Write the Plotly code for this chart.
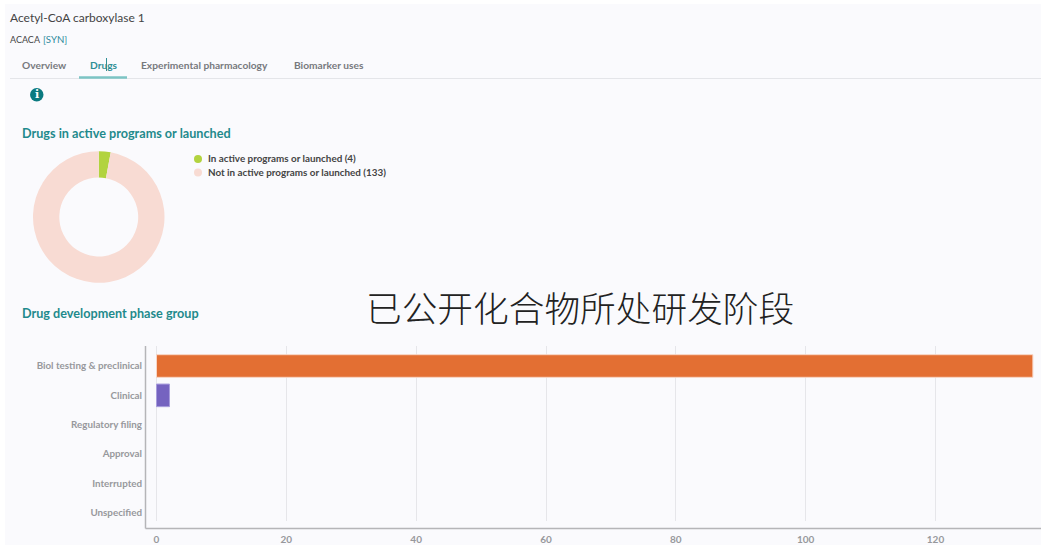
import plotly.graph_objects as go

W, H = 1041, 545
FONT = "Lato, 'Noto Sans', sans-serif"
CJK = "'Noto Sans CJK SC', sans-serif"

# Data
pie_labels = ["In active programs or launched", "Not in active programs or launched"]
pie_values = [4, 133]
pie_colors = ["#b2d33f", "#f8dbd3"]

phases = ["Biol testing & preclinical", "Clinical", "Regulatory filing",
          "Approval", "Interrupted", "Unspecified"]
phase_counts = [135, 2, 0, 0, 0, 0]
phase_colors = ["#e36f33", "#7563c0", "#999999", "#999999", "#999999", "#999999"]
phase_edges = ["#f8d5c5", "#a79cdc", "#ffffff", "#ffffff", "#ffffff", "#ffffff"]
phase_edge_widths = [1, 1, 0, 0, 0, 0]
x_ticks = [0, 20, 40, 60, 80, 100, 120]

tabs = ["Overview", "Drugs", "Experimental pharmacology", "Biomarker uses"]
tab_x = [22, 90, 141, 294]


def px(x):
    return x / W


def py(y):
    return 1 - y / H


fig = go.Figure()
fig.add_trace(go.Pie(
    labels=pie_labels, values=pie_values, hole=0.6, sort=False,
    direction="clockwise", rotation=0,
    marker=dict(colors=pie_colors, line=dict(width=0)),
    textinfo="none", hoverinfo="label+value", showlegend=False,
    domain=dict(x=[px(33), px(164.5)], y=[py(283), py(151)]),
))
fig.add_trace(go.Bar(
    y=phases, x=phase_counts, orientation="h", width=0.77,
    marker=dict(color=phase_colors, line=dict(color=phase_edges, width=phase_edge_widths)),
    showlegend=False,
))


def text(x, y, s, size, color, anchor="left", weight=400, family=FONT):
    # Annotation boxes carry a small padding, so pull the text back onto its anchor
    fig.add_annotation(
        x=px(x), y=py(y), xref="paper", yref="paper", text=s, showarrow=False,
        xanchor=anchor, yanchor="middle", xshift=-2 if anchor == "left" else 0,
        font=dict(size=size, color=color, family=family, weight=weight),
    )


def line(x0, y0, x1, y1, color, width=1):
    fig.add_shape(type="line", xref="paper", yref="paper",
                  x0=px(x0), y0=py(y0), x1=px(x1), y1=py(y1),
                  line=dict(color=color, width=width))


# Page panel
fig.add_shape(type="rect", xref="paper", yref="paper", layer="below",
              x0=px(5), y0=py(4), x1=px(1041), y1=py(545),
              fillcolor="#fafafd", line=dict(width=0))

# Header and tabs
text(10, 17.5, "Acetyl-CoA carboxylase 1", 12, "#444444")
text(10, 39, "ACACA", 9, "#444444")
text(43, 39, "[SYN]", 9.6, "#2d8a9c")
for name, x in zip(tabs, tab_x):
    active = name == "Drugs"
    text(x, 64.8, name, 10.2, "#2f8f96" if active else "#77797d", weight=700)
line(10, 78.5, 1041, 78.5, "#e4e5e9")
line(79, 77.5, 127, 77.5, "#7cc4c4", 2.5)
line(106.5, 58, 106.5, 71, "#2f8f96", 1)

# Info badge
fig.add_shape(type="circle", xref="paper", yref="paper",
              x0=px(30), y0=py(88), x1=px(43.5), y1=py(101.5),
              fillcolor="#0b7a80", line=dict(width=0))
text(36.8, 94.8, "i", 11, "#ffffff", anchor="center", weight=900, family="'DejaVu Serif', serif")

# Section headings
text(22, 133.7, "Drugs in active programs or launched", 12.65, "#1f8a8c", weight=700)
text(22, 313, "Drug development phase group", 12.65, "#1f8a8c", weight=700)

# Donut legend
for y, color, label, value in zip([159, 172.5], pie_colors, pie_labels, pie_values):
    fig.add_shape(type="circle", xref="paper", yref="paper",
                  x0=px(194), y0=py(y - 4), x1=px(202), y1=py(y + 4),
                  fillcolor=color, line=dict(width=0))
    text(208, y - 0.8, f"{label} ({value})", 9.85, "#444444", weight=700)

# Overlay caption
text(580, 306.5, "已公开化合物所处研发阶段", 35.7, "#222222", anchor="center", family=CJK, weight=300)

# Axis frame below and left of the plot
line(145.5, 346, 145.5, 528.5, "#b5b5b8", 1.5)
line(145.5, 528.5, 1041, 528.5, "#b5b5b8", 1.5)

scale = (935 - 156) / 120
fig.update_layout(
    width=W, height=H, margin=dict(l=0, r=0, t=0, b=0),
    paper_bgcolor="#ffffff", plot_bgcolor="rgba(0,0,0,0)",
    font=dict(family=FONT),
    xaxis=dict(
        domain=[px(146), 1], range=[(146 - 156.5) / scale, (1041 - 156.5) / scale],
        anchor="free", position=py(528.5), side="bottom", automargin=False,
        tickvals=x_ticks, showgrid=True, gridcolor="#e6e6ea", gridwidth=1,
        zeroline=False, showline=False, ticks="outside", ticklen=1,
        tickcolor="rgba(0,0,0,0)", tickfont=dict(size=10, color="#97989c", family=FONT, weight=700),
    ),
    yaxis=dict(
        domain=[py(521), py(346)], range=[(521 - 366) / 29.35, (346 - 366) / 29.35],
        type="category", categoryorder="array", categoryarray=phases,
        showgrid=False, zeroline=False, showline=False, ticks="outside", ticklen=1,
        tickcolor="rgba(0,0,0,0)", tickfont=dict(size=9.8, color="#97989c", family=FONT, weight=700),
        automargin=False,
    ),
)
fig.write_html("out.html")
